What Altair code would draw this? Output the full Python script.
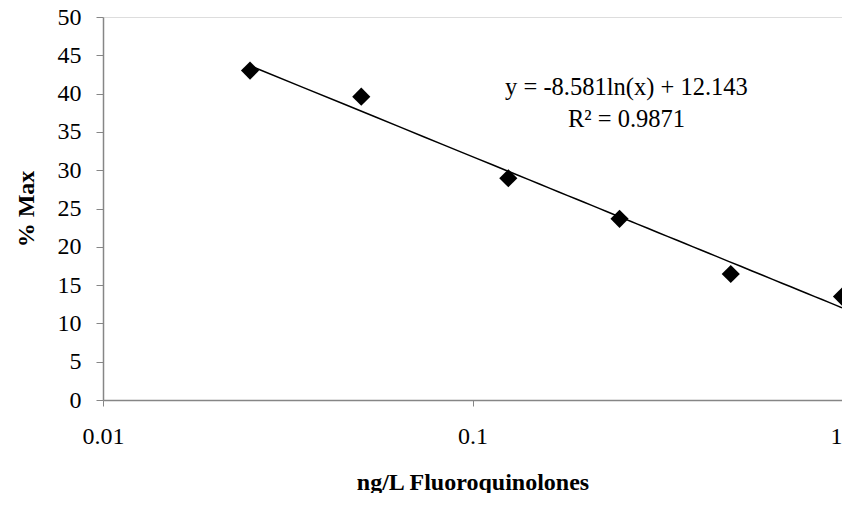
import altair as alt
import pandas as pd

# data
conc = [0.025, 0.05, 0.125, 0.25, 0.5, 1.0]
pct_max = [43.0, 39.6, 28.95, 23.65, 16.45, 13.5]

eq_text = ["y = -8.581ln(x) + 12.143", "R² = 0.9871"]
eq_x = [0.261, 0.261]
eq_y = [39.8, 35.6]

x_ticks = [0.01, 0.1, 1]
y_ticks = [0, 5, 10, 15, 20, 25, 30, 35, 40, 45, 50]

FONT = "'Liberation Serif', 'Times New Roman', Times, 'DejaVu Serif', serif"
AXIS_GRAY = "#868686"

df = pd.DataFrame({"conc": conc, "pct": pct_max})
df_eq = pd.DataFrame({"text": eq_text, "x": eq_x, "y": eq_y})

xscale = alt.Scale(type="log", domain=[0.01, 1], nice=False)
yscale = alt.Scale(domain=[0, 50], nice=False, zero=True)

x_axis = alt.Axis(
    values=x_ticks, format="~g", title="ng/L Fluoroquinolones", grid=False,
    domainColor=AXIS_GRAY, tickColor=AXIS_GRAY, tickSize=6, domainWidth=1.5, tickWidth=1,
    labelFont=FONT, labelFontSize=24, labelColor="black", labelPadding=18,
    labelAlign=alt.condition("datum.value == 1", alt.value("right"), alt.value("center")),
    titleFont=FONT, titleFontSize=24, titleFontWeight="bold", titleColor="black", titlePadding=22,
    labelFlush=False, labelOverlap=False,
)
y_axis = alt.Axis(
    values=y_ticks, title="% Max", grid=False,
    domainColor=AXIS_GRAY, tickColor=AXIS_GRAY, tickSize=7, domainWidth=1.5, tickWidth=1,
    labelFont=FONT, labelFontSize=24, labelColor="black", labelPadding=15,
    titleFont=FONT, titleFontSize=24, titleFontWeight="bold", titleColor="black", titlePadding=19,
    labelFlush=False, labelOverlap=False,
)

X = alt.X("conc:Q", scale=xscale, axis=x_axis)
Y = alt.Y("pct:Q", scale=yscale, axis=y_axis)

base = alt.Chart(df)

points = base.mark_point(shape="diamond", filled=True, size=330, color="black", opacity=1).encode(
    x=X, y=Y,
)

trend = base.transform_regression("conc", "pct", method="log").mark_line(
    color="black", strokeWidth=1.5
).encode(x=X, y=Y)

eq = alt.Chart(df_eq).mark_text(
    font=FONT, fontSize=24.5, color="black", align="center", baseline="alphabetic"
).encode(
    x=alt.X("x:Q", scale=xscale, axis=x_axis),
    y=alt.Y("y:Q", scale=yscale, axis=y_axis),
    text="text:N",
)

chart = alt.layer(trend, points, eq).properties(
    width=739,
    height=383,
    autosize=alt.AutoSizeParams(type="none"),
    padding={"left": 95, "top": 9, "right": 0, "bottom": 93},
).configure_view(stroke=None).configure(background="white")

chart.save("out.html", embed_options={"renderer": "svg", "actions": False})
